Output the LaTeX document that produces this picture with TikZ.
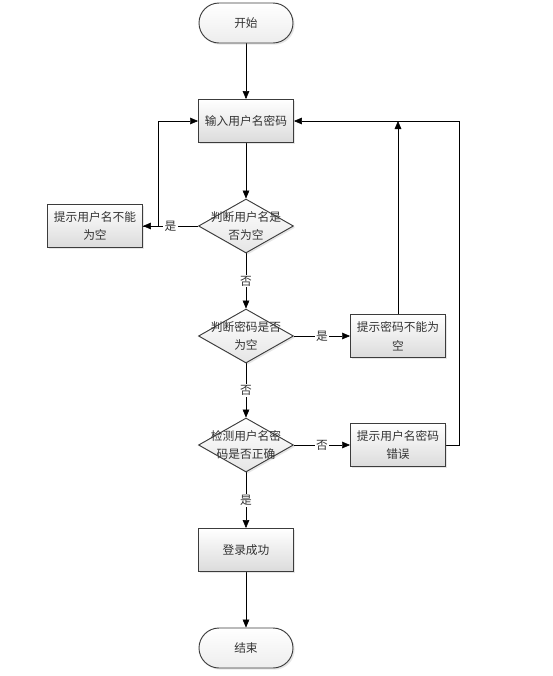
\documentclass[tikz,border=0pt]{standalone}
\usepackage{fontspec}
\newfontfamily\cjk{Noto Sans CJK SC}
\usepackage{tikz}
\usetikzlibrary{shapes.geometric, arrows.meta, shadows}
\pgfdeclarelayer{background}
\pgfsetlayers{background,main}
\definecolor{edgegray}{HTML}{3C3C3C}

\begin{document}
\begin{tikzpicture}[node distance=3.15cm,->,>={Triangle[length=2.4mm,width=2mm]},line width=0.8pt,color=edgegray,
  every node/.style={font=\fontsize{10}{16}\selectfont\cjk,text=black!80}]
 % styles
 \tikzstyle{term} = [rectangle,rounded corners=0.6cm,draw=edgegray,top color=white,bottom color=black!7,minimum width=2.82cm,minimum height=1.2cm,drop shadow={opacity=0.2,shadow xshift=0.5mm,shadow yshift=-0.5mm}];
 \tikzstyle{proc} = [rectangle,draw=edgegray,top color=white,bottom color=black!14,align=center,minimum width=2.85cm,minimum height=1.29cm,drop shadow={opacity=0.2,shadow xshift=0.5mm,shadow yshift=-0.5mm}];
 \tikzstyle{decide} = [diamond,draw=edgegray,top color=white,bottom color=black!10,inner sep=0pt,minimum width=2.85cm,minimum height=1.62cm,drop shadow={opacity=0.2,shadow xshift=0.5mm,shadow yshift=-0.5mm}];
 \tikzstyle{lab} = [fill=white,inner sep=1pt];

 % nodes
 \node[term] (start) {开始};
 \node[proc,below of=start,node distance=2.94cm] (input) {输入用户名密码};
 \node[decide,below of=input,label={[align=center]center:判断用户名是\\否为空}] (user) {};
 \node[proc,left of=user,node distance=4.53cm] (tipuser) {提示用户名不能\\为空};
 \node[decide,below of=user,node distance=3.3cm,label={[align=center]center:判断密码是否\\为空}] (pwd) {};
 \node[proc,right of=pwd,node distance=4.56cm] (tippwd) {提示密码不能为\\空};
 \node[decide,below of=pwd,node distance=3.27cm,label={[align=center]center:检测用户名密\\码是否正确}] (check) {};
 \node[proc,right of=check,node distance=4.56cm] (tipwrong) {提示用户名密码\\错误};
 \node[proc,below of=check] (ok) {登录成功};
 \node[term,below of=ok,node distance=2.94cm] (finish) {结束};

 \begin{pgfonlayer}{background}
 % edges
 \path (start) edge (input);
 \path (input) edge (user);
 \path (user) edge node[lab] {是} (tipuser);
 \path (user) edge node[lab] {否} (pwd);
 \path (pwd) edge node[lab] {是} (tippwd);
 \path (pwd) edge node[lab] {否} (check);
 \path (check) edge node[lab] {否} (tipwrong);
 \path (check) edge node[lab] {是} (ok);
 \path (ok) edge (finish);

 % back to input
 \draw (tipuser.east) -- ++(0.45cm,0) |- (input.west);
 \draw (tippwd.north) -- (tippwd.north |- input.east);
 \draw (tipwrong.east) -- ++(0.39cm,0) |- (input.east);
 \end{pgfonlayer}

 \useasboundingbox (start.center) ++(-7.38cm,0.69cm) rectangle ++(16.59cm,-20.28cm);
\end{tikzpicture}
\end{document}
